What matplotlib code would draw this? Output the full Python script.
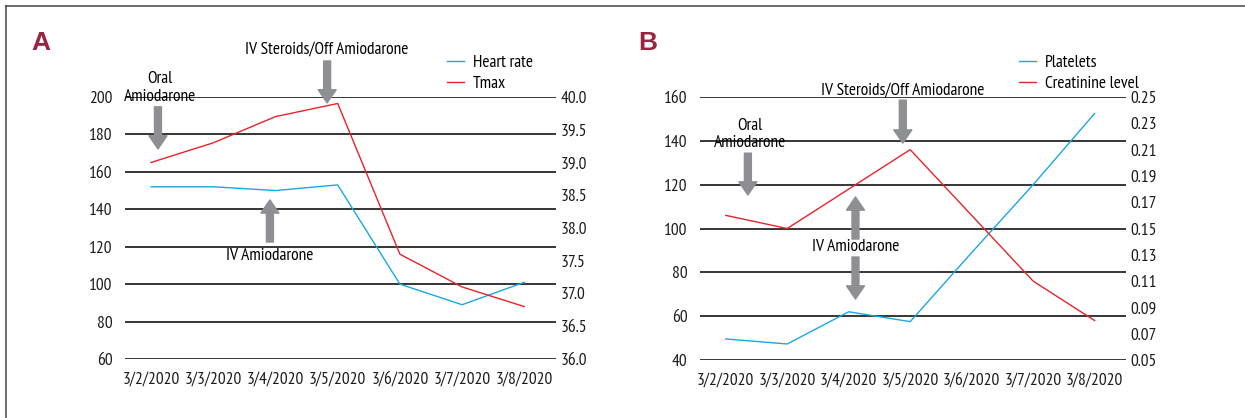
import numpy as np
import matplotlib
matplotlib.use('Agg')
import matplotlib.pyplot as plt
from matplotlib.lines import Line2D

plt.rcParams['font.family'] = ['PT Sans Narrow', 'DejaVu Sans']

# Data
dates = ['3/2/2020', '3/3/2020', '3/4/2020', '3/5/2020', '3/6/2020', '3/7/2020', '3/8/2020']
heart_rate = [152, 152, 150, 153, 100, 89, 101]
tmax = [39.0, 39.3, 39.7, 39.9, 37.6, 37.1, 36.8]
platelets = [49.6, 47.3, 62, 57.5, 89, 120, 152.5]
creatinine = [0.16, 0.15, 0.18, 0.21, 0.16, 0.11, 0.08]

hr_ticks = [60, 80, 100, 120, 140, 160, 180, 200]
tmax_ticks = [36.0, 36.5, 37.0, 37.5, 38.0, 38.5, 39.0, 39.5, 40.0]
plt_ticks = [40, 60, 80, 100, 120, 140, 160]
cr_ticks = [0.05, 0.07, 0.09, 0.11, 0.13, 0.15, 0.17, 0.19, 0.21, 0.23, 0.25]

BLUE = '#1aa7e3'
RED = '#e8232b'
GRAY = '#8e8f93'
FS = 12.5

fig = plt.figure(figsize=(12.45, 4.18), dpi=100)

axA = fig.add_axes([0.1004, 0.1411, 0.3462, 0.627])
axB = fig.add_axes([0.5622, 0.1388, 0.3422, 0.629])

x = np.arange(len(dates))


def style(ax, ax2, lticks, rticks, rfmt):
    ax.set_xlim(-0.42, 6.51)
    ax.set_xticks(x)
    ax.set_xticklabels(dates)
    ax.set_yticks(lticks)
    ax.set_ylim(lticks[0], lticks[-1])
    ax.set_yticklabels([str(t) for t in lticks])
    ax.grid(axis='y', color='black', linewidth=1.1)
    ax.set_axisbelow(True)
    ax.tick_params(axis='y', length=0, pad=9, labelsize=FS, colors='#1a1a1a')
    ax.tick_params(axis='x', length=0, pad=9, labelsize=FS, colors='#1a1a1a')
    ax2.set_yticks(rticks)
    ax2.set_ylim(rticks[0], rticks[-1])
    ax2.set_yticklabels([rfmt % t for t in rticks])
    ax2.tick_params(axis='y', length=0, pad=3, labelsize=FS, colors='#1a1a1a')
    for a in (ax, ax2):
        for s in a.spines.values():
            s.set_visible(False)


def arrow(ax, x0, y_from, y_to):
    ax.annotate('', xy=(x0, y_to), xytext=(x0, y_from),
                arrowprops=dict(arrowstyle='simple,head_length=9.5,head_width=13,tail_width=5',
                                mutation_scale=1, color=GRAY, shrinkA=0, shrinkB=0),
                annotation_clip=False, zorder=5)


# Panel A
axA2 = axA.twinx()
style(axA, axA2, hr_ticks, tmax_ticks, '%.1f')
hA1, = axA.plot(x, heart_rate, color=BLUE, lw=1.0, label='Heart rate')
hA2, = axA2.plot(x, tmax, color=RED, lw=1.0, label='Tmax')
axA2.legend(handles=[hA1, hA2], loc='upper left', bbox_to_anchor=(0.359, 0.868),
            bbox_transform=fig.transFigure, frameon=False, fontsize=FS,
            handlelength=1.0, handletextpad=0.5, labelspacing=0.25,
            borderpad=0, borderaxespad=0)

axA.text(0.14, 204.8, 'Oral\nAmiodarone', ha='center', va='center', fontsize=FS,
         linespacing=1.15, clip_on=False)
arrow(axA, 0.11, 194.7, 172.2)
axA.text(2.82, 225.1, 'IV Steroids/Off Amiodarone', ha='center', va='center',
         fontsize=FS, clip_on=False)
arrow(axA, 2.83, 219.2, 196.8)
axA.text(1.90, 115.0, 'IV Amiodarone', ha='center', va='center', fontsize=FS)
arrow(axA, 1.91, 122.5, 145.0)

# Panel B
axB2 = axB.twinx()
style(axB, axB2, plt_ticks, cr_ticks, '%.2f')
hB1, = axB.plot(x, platelets, color=BLUE, lw=1.0, label='Platelets')
hB2, = axB2.plot(x, creatinine, color=RED, lw=1.0, label='Creatinine level')
axB2.legend(handles=[hB1, hB2], loc='upper left', bbox_to_anchor=(0.8185, 0.868),
            bbox_transform=fig.transFigure, frameon=False, fontsize=FS,
            handlelength=1.0, handletextpad=0.5, labelspacing=0.25,
            borderpad=0, borderaxespad=0)

axB.text(0.39, 142.9, 'Oral\nAmiodarone', ha='center', va='center', fontsize=FS,
         linespacing=1.15)
arrow(axB, 0.36, 134.4, 115.3)
axB.text(2.88, 163.2, 'IV Steroids/Off Amiodarone', ha='center', va='center',
         fontsize=FS, clip_on=False)
arrow(axB, 2.88, 158.6, 139.0)
axB.text(2.11, 91.6, 'IV Amiodarone', ha='center', va='center', fontsize=FS)
arrow(axB, 2.11, 95.2, 114.4)
arrow(axB, 2.11, 87.0, 67.8)

# panel letters
fig.text(41 / 1245, 1 - 43 / 418, 'A', ha='center', va='center', fontsize=19,
         fontweight='bold', color='#9a2440', family='Liberation Sans')
fig.text(648 / 1245, 1 - 43 / 418, 'B', ha='center', va='center', fontsize=19,
         fontweight='bold', color='#9a2440', family='Liberation Sans')

# outer frame (left and top edges)
fig.add_artist(Line2D([6 / 1245, 6 / 1245], [0, 1 - 6 / 418], color='#444444',
                      lw=1.1, transform=fig.transFigure))
fig.add_artist(Line2D([6 / 1245, 1], [1 - 6 / 418, 1 - 6 / 418], color='#444444',
                      lw=1.1, transform=fig.transFigure))

fig.savefig('out.png', dpi=100)
